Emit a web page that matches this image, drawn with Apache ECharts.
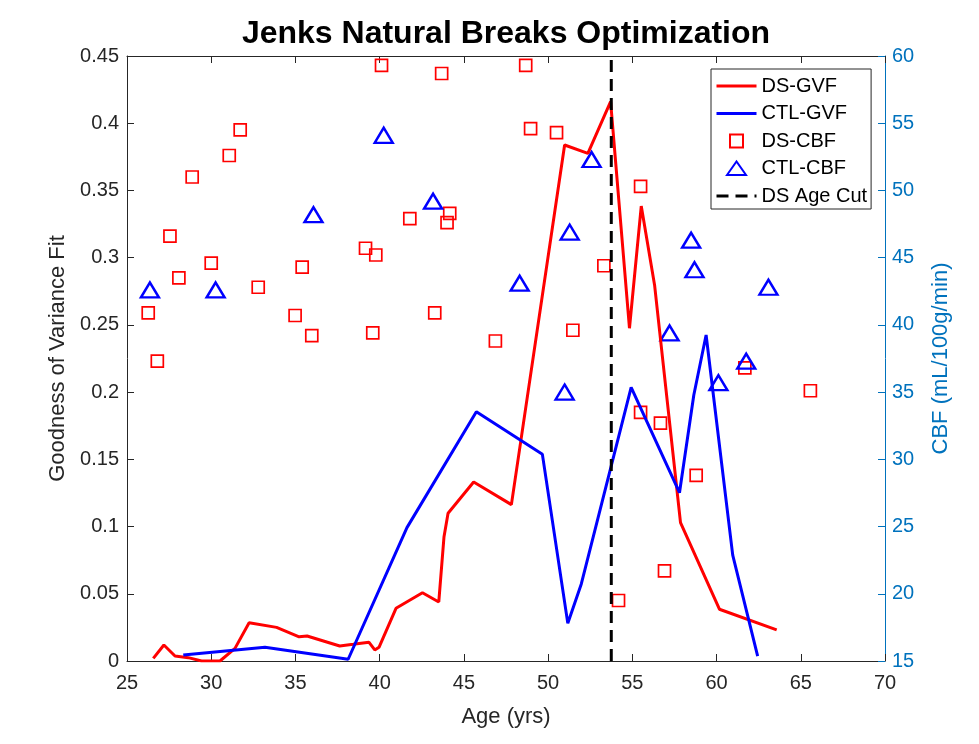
<!DOCTYPE html>
<html>
<head>
<meta charset="utf-8">
<script src="https://cdn.jsdelivr.net/npm/echarts@6/dist/echarts.min.js"></script>
<style>html,body{margin:0;padding:0;background:#fff;}#c{width:979px;height:744px;}</style>
</head>
<body>
<div id="c"></div>
<script>
// ---- data ----
var xTicks = [25, 30, 35, 40, 45, 50, 55, 60, 65, 70];
var leftTicks = [0, 0.05, 0.1, 0.15, 0.2, 0.25, 0.3, 0.35, 0.4, 0.45];
var rightTicks = [15, 20, 25, 30, 35, 40, 45, 50, 55, 60];

var dsGvfAge = [26.56, 27.19, 27.85, 28.64, 29.43, 30.52, 31.41, 32.25, 33.88, 35.22, 35.69, 37.63, 38.42, 39.37, 39.71, 39.96, 40.97, 42.54, 43.51, 43.82, 44.06, 45.58, 47.82, 50.98, 52.36, 53.71, 54.83, 55.53, 56.32, 57.86, 60.17, 63.57];
var dsGvfVal = [0.002, 0.0119, 0.0037, 0.0025, 0.0, 0.0, 0.0094, 0.0285, 0.025, 0.018, 0.0186, 0.0112, 0.0124, 0.0139, 0.0082, 0.0102, 0.0392, 0.0508, 0.0439, 0.0925, 0.1099, 0.1331, 0.1163, 0.3838, 0.3776, 0.416, 0.2475, 0.3384, 0.2797, 0.1029, 0.0385, 0.0231];

var ctlGvfAge = [28.34, 33.19, 38.13, 41.62, 45.74, 49.66, 51.17, 51.97, 54.93, 57.80, 58.65, 59.38, 60.96, 62.44];
var ctlGvfVal = [0.0045, 0.0102, 0.0013, 0.0992, 0.1854, 0.1537, 0.028, 0.0573, 0.2036, 0.1252, 0.1979, 0.2425, 0.0788, 0.0037];

var dsCbfAge = [26.26, 26.80, 27.55, 28.08, 28.87, 30.00, 31.07, 31.72, 32.79, 34.98, 35.40, 35.97, 39.16, 39.59, 39.77, 40.11, 41.79, 43.27, 43.68, 44.00, 44.16, 46.87, 48.67, 48.96, 50.50, 51.47, 53.31, 54.18, 55.49, 55.49, 56.67, 56.91, 58.79, 61.68, 65.57];
var dsCbfVal = [40.9, 37.3, 46.6, 43.5, 51.0, 44.6, 52.6, 54.5, 42.8, 40.7, 44.3, 39.2, 45.7, 39.4, 45.2, 59.3, 47.9, 40.9, 58.7, 47.6, 48.3, 38.8, 59.3, 54.6, 54.3, 39.6, 44.4, 19.5, 50.3, 33.5, 32.7, 21.7, 28.8, 36.8, 35.1];

var ctlCbfAge = [26.36, 30.26, 36.07, 40.24, 43.17, 48.31, 50.98, 51.28, 52.58, 57.21, 58.49, 58.69, 60.11, 61.76, 63.08];
var ctlCbfVal = [42.6, 42.6, 48.2, 54.1, 49.2, 43.1, 35.0, 46.9, 52.3, 39.4, 46.3, 44.1, 35.7, 37.3, 42.8];

var cutAge = 53.75;

// ---- build chart ----
function pairs(a, b) { return a.map(function (v, i) { return [v, b[i]]; }); }
var FONT = '"Liberation Sans", Arial, Helvetica, sans-serif';
var TXT = '#262626';
var RBLUE = '#0072BD';
var hideSym = {color: 'rgba(0,0,0,0)', borderWidth: 0, opacity: 0};
// legend glyphs: invisible corner points keep the 40x14 box, the visible shape sits in the middle
var squareIcon = 'path://M0,0 M40,14 M13.5,0.5 L26.5,0.5 L26.5,13.5 L13.5,13.5 Z';
var triIcon = 'path://M0,0 M40,14 M10.5,13.5 L20,0 L29.5,13.5 Z';

var chart = echarts.init(document.getElementById('c'), null, {renderer: 'canvas'});
chart.setOption({
  animation: false,
  backgroundColor: '#fff',
  textStyle: {fontFamily: FONT},
  title: {
    text: 'Jenks Natural Breaks Optimization',
    left: 501, top: 13, textAlign: 'center',
    textStyle: {fontFamily: FONT, fontSize: 32, fontWeight: 'bold', color: '#000'}
  },
  grid: {left: 127, right: 94, top: 56, bottom: 83, containLabel: false},
  legend: {
    orient: 'vertical', left: 711, top: 69,
    backgroundColor: '#fff', borderColor: '#262626', borderWidth: 1,
    padding: [7, 4, 3, 4], itemGap: 7.5, itemWidth: 40, itemHeight: 14,
    textStyle: {fontFamily: FONT, fontSize: 20, color: '#000', lineHeight: 20},
    data: [
      {name: 'DS-GVF', itemStyle: hideSym, lineStyle: {width: 3}},
      {name: 'CTL-GVF', itemStyle: hideSym, lineStyle: {width: 3}},
      {name: 'DS-CBF', icon: squareIcon},
      {name: 'CTL-CBF', icon: triIcon},
      {name: 'DS Age Cut', itemStyle: hideSym, lineStyle: {width: 3}}
    ]
  },
  xAxis: [{
    type: 'value', min: 25, max: 70, interval: 5, position: 'bottom',
    name: 'Age (yrs)', nameLocation: 'middle', nameGap: 45,
    nameTextStyle: {fontFamily: FONT, fontSize: 22, color: TXT},
    axisLine: {lineStyle: {color: TXT, width: 1}},
    axisTick: {inside: true, length: 7, lineStyle: {color: TXT}},
    axisLabel: {fontFamily: FONT, fontSize: 20, color: TXT, margin: 12,
      formatter: function (v) { return xTicks.indexOf(v) >= 0 ? String(v) : ''; }},
    splitLine: {show: false}
  }, {
    type: 'value', min: 25, max: 70, interval: 5, position: 'top',
    axisLine: {show: true, lineStyle: {color: TXT, width: 1}},
    axisTick: {inside: true, length: 7, lineStyle: {color: TXT}},
    axisLabel: {show: false}, splitLine: {show: false}
  }],
  yAxis: [{
    type: 'value', min: 0, max: 0.45, interval: 0.05, position: 'left',
    name: 'Goodness of Variance Fit', nameLocation: 'middle', nameGap: 56, nameRotate: 90,
    nameTextStyle: {fontFamily: FONT, fontSize: 22, color: TXT},
    axisLine: {show: true, lineStyle: {color: TXT, width: 1}},
    axisTick: {show: true, inside: true, length: 7, lineStyle: {color: TXT}},
    axisLabel: {fontFamily: FONT, fontSize: 20, color: TXT, margin: 8,
      formatter: function (v) {
        var r = Math.round(v * 100) / 100;
        for (var i = 0; i < leftTicks.length; i++) { if (Math.abs(leftTicks[i] - r) < 1e-9) return String(leftTicks[i]); }
        return '';
      }},
    splitLine: {show: false}
  }, {
    type: 'value', min: 15, max: 60, interval: 5, position: 'right',
    name: 'CBF (mL/100g/min)', nameLocation: 'middle', nameGap: 45, nameRotate: 90,
    nameTextStyle: {fontFamily: FONT, fontSize: 22, color: RBLUE},
    axisLine: {show: true, lineStyle: {color: RBLUE, width: 1}},
    axisTick: {show: true, inside: true, length: 7, lineStyle: {color: RBLUE}},
    axisLabel: {fontFamily: FONT, fontSize: 20, color: RBLUE, margin: 7,
      formatter: function (v) { return rightTicks.indexOf(v) >= 0 ? String(v) : ''; }},
    splitLine: {show: false}
  }],
  series: [{
    name: 'DS-CBF', type: 'scatter', xAxisIndex: 0, yAxisIndex: 1,
    symbol: 'rect', symbolSize: 12, z: 2,
    itemStyle: {color: 'rgba(255,255,255,0)', borderColor: '#FF0000', borderWidth: 1.7, opacity: 1},
    data: pairs(dsCbfAge, dsCbfVal)
  }, {
    name: 'CTL-CBF', type: 'scatter', xAxisIndex: 0, yAxisIndex: 1,
    symbol: 'triangle', symbolSize: [18, 15], z: 2,
    itemStyle: {color: 'rgba(255,255,255,0)', borderColor: '#0000FF', borderWidth: 2.4, opacity: 1},
    data: pairs(ctlCbfAge, ctlCbfVal)
  }, {
    name: 'DS-GVF', type: 'line', xAxisIndex: 0, yAxisIndex: 0,
    symbol: 'none', z: 3,
    lineStyle: {color: '#FF0000', width: 3}, itemStyle: {color: '#FF0000'},
    data: pairs(dsGvfAge, dsGvfVal)
  }, {
    name: 'CTL-GVF', type: 'line', xAxisIndex: 0, yAxisIndex: 0,
    symbol: 'none', z: 3,
    lineStyle: {color: '#0000FF', width: 3}, itemStyle: {color: '#0000FF'},
    data: pairs(ctlGvfAge, ctlGvfVal)
  }, {
    name: 'DS Age Cut', type: 'line', xAxisIndex: 0, yAxisIndex: 0,
    symbol: 'none', z: 4,
    lineStyle: {color: '#000', width: 3, type: [12, 7]}, itemStyle: {color: '#000'},
    data: [[cutAge, 0], [cutAge, 0.45]]
  }]
});
</script>
</body>
</html>
